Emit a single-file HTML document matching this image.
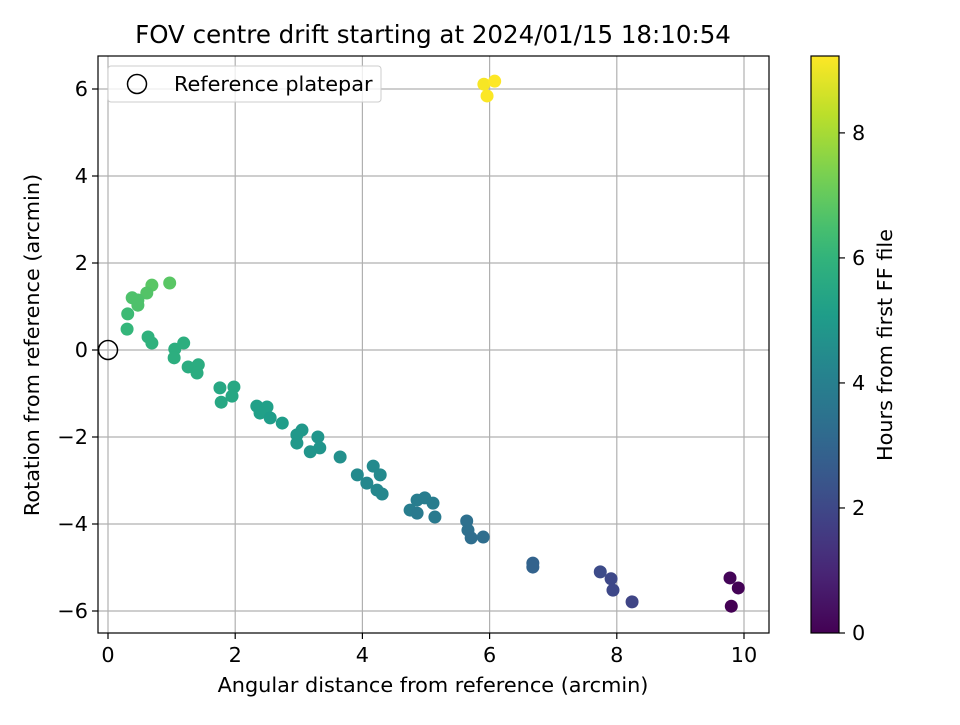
<!DOCTYPE html>
<html><head><meta charset="utf-8"><style>
html,body{margin:0;padding:0;background:#fff;}
svg text{font-family:"DejaVu Sans","Liberation Sans",sans-serif;fill:#000;}
</style></head><body>
<svg id="chart" width="960" height="720" xmlns="http://www.w3.org/2000/svg"></svg>
<script>
const xs=[5.91,5.96,6.08,0.97,0.69,0.61,0.38,0.47,0.47,0.31,0.30,0.63,0.69,1.05,1.19,1.04,1.26,1.42,1.40,1.76,1.98,1.78,1.95,2.34,2.50,2.39,2.55,2.74,2.97,3.05,2.97,3.30,3.33,3.18,3.65,3.92,4.17,4.28,4.07,4.23,4.31,4.75,4.86,4.98,5.11,4.86,5.14,5.64,5.66,5.71,5.90,6.68,6.68,7.74,7.91,7.94,8.24,9.78,9.91,9.80];
const ys=[6.11,5.84,6.18,1.54,1.49,1.31,1.20,1.15,1.03,0.83,0.48,0.30,0.16,0.02,0.16,-0.18,-0.39,-0.34,-0.53,-0.87,-0.85,-1.20,-1.06,-1.29,-1.31,-1.45,-1.56,-1.68,-1.95,-1.84,-2.14,-2.00,-2.25,-2.34,-2.46,-2.87,-2.67,-2.87,-3.06,-3.22,-3.31,-3.68,-3.45,-3.40,-3.52,-3.75,-3.84,-3.93,-4.14,-4.32,-4.30,-4.90,-4.99,-5.10,-5.26,-5.52,-5.79,-5.24,-5.47,-5.89];
const hours=[9.15,9.2,9.25,6.8,6.8,6.7,6.6,6.6,6.6,6.3,6.1,5.9,5.9,5.8,5.8,5.8,5.7,5.7,5.7,5.5,5.5,5.5,5.5,5.2,5.2,5.2,5.1,5.1,4.9,4.9,4.9,4.8,4.8,4.8,4.6,4.4,4.4,4.4,4.3,4.3,4.3,3.9,3.9,3.9,3.9,3.8,3.8,3.4,3.4,3.3,3.3,2.9,2.9,2.1,2.0,2.0,1.9,0.1,0.05,0.0];
const xTicks=[0,2,4,6,8,10];
const yTicks=[-6,-4,-2,0,2,4,6];
const cTicks=[0,2,4,6,8];
const cMax=9.23;

const NS="http://www.w3.org/2000/svg";
const svg=document.getElementById('chart');
const L=98,R=769,T=56,B=633;
const X=v=>108+v*63.6;
const Y=v=>350-v*43.5;
const FS='20.8';
function mk(tag,attrs,parent){const e=document.createElementNS(NS,tag);for(const k in attrs)e.setAttribute(k,attrs[k]);(parent||svg).appendChild(e);return e;}
const vir=[[68,1,84],[72,40,120],[62,74,137],[49,104,142],[38,130,142],[31,158,137],[53,183,121],[110,206,88],[181,222,43],[253,231,37]];
function viridis(t){t=Math.max(0,Math.min(1,t));const p=t*9,i=Math.min(8,Math.floor(p)),f=p-i;const c=vir[i].map((a,k)=>Math.round(a+(vir[i+1][k]-a)*f));return `rgb(${c[0]},${c[1]},${c[2]})`;}

let t=mk('text',{x:433,y:43,'text-anchor':'middle','font-size':'24.5'});t.textContent='FOV centre drift starting at 2024/01/15 18:10:54';



xTicks.forEach(v=>{
  const g=mk('line',{x1:X(v),x2:X(v),y1:T,y2:B,stroke:'#b0b0b0','stroke-width':1.2});
  
  
  mk('line',{x1:X(v),x2:X(v),y1:B,y2:B+6,stroke:'#000','stroke-width':1.2});
  const l=mk('text',{x:X(v),y:B+29,'text-anchor':'middle','font-size':FS});l.textContent=v;
  
  
});
yTicks.forEach(v=>{
  const g=mk('line',{x1:L,x2:R,y1:Y(v),y2:Y(v),stroke:'#b0b0b0','stroke-width':1.2});
  
  
  mk('line',{x1:L-6,x2:L,y1:Y(v),y2:Y(v),stroke:'#000','stroke-width':1.2});
  const l=mk('text',{x:L-10,y:Y(v)+7,'text-anchor':'end','font-size':FS});l.textContent=(v<0?'\u2212'+(-v):v);
  
  
});

xs.forEach((x,i)=>{
  const c=mk('circle',{cx:X(x),cy:Y(ys[i]),r:6.5,fill:viridis(hours[i]/cMax)});
  
  
});
let ref=mk('circle',{cx:X(0),cy:Y(0),r:9.5,fill:'none',stroke:'#000','stroke-width':1.5});



let fr=mk('rect',{x:L,y:T,width:R-L,height:B-T,fill:'none',stroke:'#000','stroke-width':1.2});



let xt=mk('text',{x:433,y:692,'text-anchor':'middle','font-size':FS});xt.textContent='Angular distance from reference (arcmin)';


let yt=mk('text',{x:0,y:0,'text-anchor':'middle','font-size':FS,transform:'translate(39,345) rotate(-90)'});yt.textContent='Rotation from reference (arcmin)';



let lg=mk('g',{});


mk('rect',{x:108,y:66,width:273,height:36,rx:3,fill:'#fff','fill-opacity':0.8,stroke:'#ccc'},lg);
mk('circle',{cx:137,cy:84,r:9.5,fill:'none',stroke:'#000','stroke-width':1.5},lg);
let lt=mk('text',{x:174,y:91,'font-size':FS},lg);lt.textContent='Reference platepar';



const cL=811,cR=839;
const cb=mk('g',{});


const defs=mk('defs',{});
const grad=mk('linearGradient',{id:'vg',x1:0,y1:1,x2:0,y2:0},defs);
for(let i=0;i<=20;i++)mk('stop',{offset:i/20,'stop-color':viridis(i/20)},grad);
const CY=v=>B-v/cMax*(B-T);
mk('rect',{x:cL,y:T,width:cR-cL,height:B-T,fill:'url(#vg)',stroke:'#000','stroke-width':1.2},cb);
cTicks.forEach(v=>{
  mk('line',{x1:cR,x2:cR+6,y1:CY(v),y2:CY(v),stroke:'#000','stroke-width':1.2},cb);
  const l=mk('text',{x:cR+13,y:CY(v)+7,'font-size':FS},cb);l.textContent=v;
  
  
});
let ct=mk('text',{x:0,y:0,'text-anchor':'middle','font-size':FS,transform:'translate(892,345) rotate(-90)'});ct.textContent='Hours from first FF file';


</script>
</body></html>
